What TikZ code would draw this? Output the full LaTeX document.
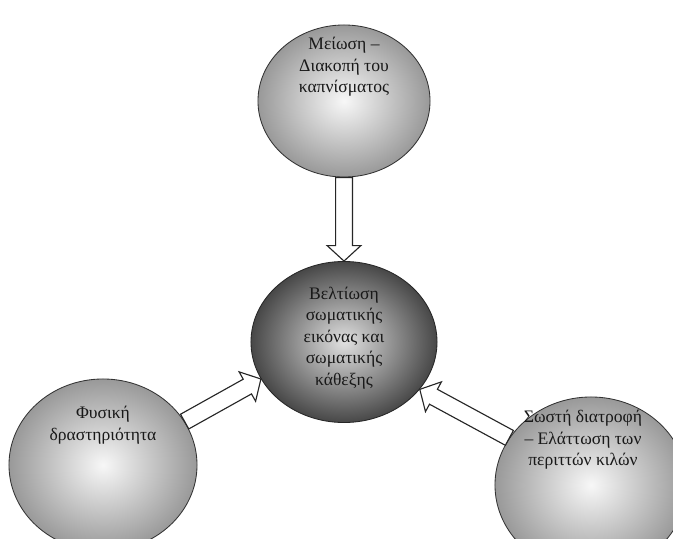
\documentclass[tikz,border=0pt]{standalone}
\usepackage{fontspec}
\setmainfont{Liberation Serif}
\usetikzlibrary{shapes.geometric,calc,positioning}

\begin{document}
\begin{tikzpicture}[x=0.025cm, y=-0.025cm,
    bubble/.style={ellipse, draw=black!80, line width=0.6pt, inner sep=0pt,
      inner color=black!3, outer color=black!40},
    core/.style={ellipse, draw=black!85, line width=0.6pt, inner sep=0pt,
      inner color=black!12, outer color=black!72},
    caption/.style={align=center, inner sep=0pt, text=black!90,
      font=\fontsize{12.5}{15.3}\selectfont},
    hollow/.style={draw=black!85, line width=0.8pt, fill=white, line join=miter,
      to path={let \p1=($(\tikztotarget)-(\tikztostart)$), \n1={atan2(\y1,\x1)},
        \n2={veclen(\x1,\y1)} in
        ++(\n1+90:6pt) -- ++(\n1:{\n2-11pt}) -- ++(\n1+90:6pt) -- (\tikztotarget)
        -- ($(\tikztotarget)+(\n1+180:11pt)+(\n1-90:12pt)$) -- ++(\n1+90:6pt)
        -- ($(\tikztostart)+(\n1-90:6pt)$) -- cycle}}]
  \fill[white] (0,0) rectangle (673,539);
  \useasboundingbox (0,0) rectangle (673,539);

  \node[bubble, minimum width=4.3cm, minimum height=3.8cm] (quit) at (344,101) {};
  \node[core, minimum width=4.65cm, minimum height=4.025cm] (body) at (344,342) {};
  \node[bubble, minimum width=4.7cm, minimum height=4.3cm] (sport) at (103,465) {};
  \node[bubble, minimum width=4.8cm, minimum height=4.4cm] (diet) at (591,485) {};

  \node[caption] (quittext) at (344,67) {Μείωση –\\Διακοπή του\\καπνίσματος};
  \node[caption] (bodytext) at (344,338) {Βελτίωση\\σωματικής\\εικόνας και\\σωματικής\\κάθεξης};
  \node[caption] (sporttext) at (103,425) {Φυσική\\δραστηριότητα};
  \node[caption] (diettext) at (583,440) {Σωστή διατροφή\\– Ελάττωση των\\περιττών κιλών};

  \draw[hollow] (quit.south) to (body.north);
  \draw[hollow] (sport.28) to (body.204);
  \draw[hollow] (diet.150) to (body.328);
\end{tikzpicture}
\end{document}
